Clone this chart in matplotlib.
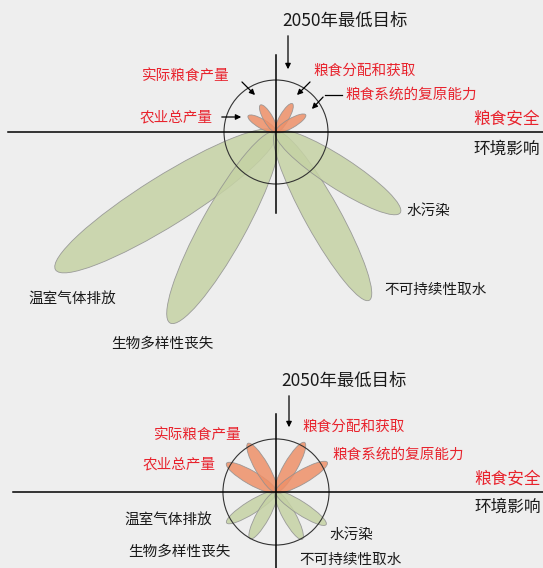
import numpy as np
import matplotlib.pyplot as plt
from matplotlib.patches import Ellipse, Circle

plt.rcParams['font.family'] = ['Noto Sans CJK SC', 'DejaVu Sans']

# petal directions (degrees) and lengths, in units of the 2050 target radius
food_labels = ['农业总产量', '实际粮食产量', '粮食分配和获取', '粮食系统的复原能力']
food_angles = [150, 120, 60, 30]
env_labels = ['温室气体排放', '生物多样性丧失', '不可持续性取水', '水污染']
env_angles = [212, 241, 299, 327]

top_food = [0.62, 0.60, 0.63, 0.66]
top_env = [5.0, 4.2, 3.7, 2.85]
top_food_w = [0.18, 0.18, 0.18, 0.18]
top_env_w = [0.95, 0.85, 0.68, 0.6]

bot_food = [1.10, 1.08, 1.10, 1.14]
bot_env = [1.12, 1.03, 1.04, 1.15]
bot_food_w = [0.26, 0.26, 0.26, 0.26]
bot_env_w = [0.25, 0.25, 0.25, 0.25]

W, H = 543, 568
BG = '#eeeeee'
RED = '#e8232d'
ORANGE = '#ee9068'
GREEN = '#c5d2a4'
SCALE = 52.0  # pixels per unit

fig = plt.figure(figsize=(W / 100, H / 100), dpi=100, facecolor=BG)


def fx(x):
    return x / W


def fy(y):
    return 1 - y / H


def make_axes(top, bottom, cy, cx=276):
    ax = fig.add_axes([0, fy(bottom), 1, (bottom - top) / H])
    ax.set_xlim(-cx / SCALE, (W - cx) / SCALE)
    ax.set_ylim(-(bottom - cy) / SCALE, (cy - top) / SCALE)
    ax.axis('off')
    ax.patch.set_alpha(0)
    return ax


def petals(ax, angles, lengths, widths, color, z):
    for a, L, w in zip(angles, lengths, widths):
        t = np.deg2rad(a)
        e = Ellipse((L / 2 * np.cos(t), L / 2 * np.sin(t)), width=L, height=w, angle=a,
                    facecolor=color, edgecolor='#8f8f8f', lw=0.6, alpha=0.85, zorder=z)
        ax.add_patch(e)


def txt(x, y, s, color='#1a1a1a', size=10.5, ha='left'):
    fig.text(fx(x), fy(y), s, color=color, fontsize=size, ha=ha, va='center')


def arrow(x0, y0, x1, y1):
    fig.add_artist(plt.matplotlib.patches.FancyArrowPatch(
        (fx(x0), fy(y0)), (fx(x1), fy(y1)), transform=fig.transFigure,
        arrowstyle='-|>', mutation_scale=8, lw=0.9, color='black'))


# ---- top panel ----
ax1 = make_axes(0, 355, 132)
petals(ax1, env_angles, top_env, top_env_w, GREEN, 2)
petals(ax1, food_angles, top_food, top_food_w, ORANGE, 3)
ax1.add_patch(Circle((0, 0), 1.0, fill=False, ec='#333333', lw=0.8, zorder=4))
ax1.plot([-268 / SCALE, W / SCALE], [0, 0], color='black', lw=1.1, zorder=5)
ax1.plot([0, 0], [-81 / SCALE, 77 / SCALE], color='black', lw=1.1, zorder=5)

txt(345, 21, '2050年最低目标', size=12.5, ha='center')
arrow(288, 33, 288, 72)
txt(142, 76, food_labels[1], RED)
arrow(240, 80, 257, 97)
txt(313, 71, food_labels[2], RED)
arrow(312, 80, 295, 97)
txt(345, 95, food_labels[3], RED)
fig.add_artist(plt.Line2D([fx(342), fx(325)], [fy(95), fy(95)], transform=fig.transFigure,
                          color='black', lw=0.9))
arrow(325, 95, 310, 111)
txt(140, 117, food_labels[0], RED)
arrow(219, 117, 244, 117)
txt(473, 119, '粮食安全', RED, size=12)
txt(473, 149, '环境影响', size=12)
txt(406, 211, env_labels[3])
txt(384, 290, env_labels[2])
txt(28, 299, env_labels[0])
txt(111, 344, env_labels[1])

# ---- bottom panel ----
ax2 = make_axes(355, 568, 492)
petals(ax2, env_angles, bot_env, bot_env_w, GREEN, 2)
petals(ax2, food_angles, bot_food, bot_food_w, ORANGE, 3)
ax2.add_patch(Circle((0, 0), 1.02, fill=False, ec='#333333', lw=0.8, zorder=4))
ax2.plot([-263 / SCALE, W / SCALE], [0, 0], color='black', lw=1.1, zorder=5)
ax2.plot([0, 0], [-80 / SCALE, 78 / SCALE], color='black', lw=1.1, zorder=5)

txt(344, 381, '2050年最低目标', size=12.5, ha='center')
arrow(289, 393, 289, 430)
txt(302, 427, food_labels[2], RED)
txt(154, 435, food_labels[1], RED)
txt(332, 455, food_labels[3], RED)
txt(143, 464, food_labels[0], RED)
txt(474, 479, '粮食安全', RED, size=12)
txt(474, 507, '环境影响', size=12)
txt(124, 520, env_labels[0])
txt(128, 552, env_labels[1])
txt(329, 535, env_labels[3])
txt(299, 560, env_labels[2])

fig.savefig('out.png', dpi=100, facecolor=BG)
